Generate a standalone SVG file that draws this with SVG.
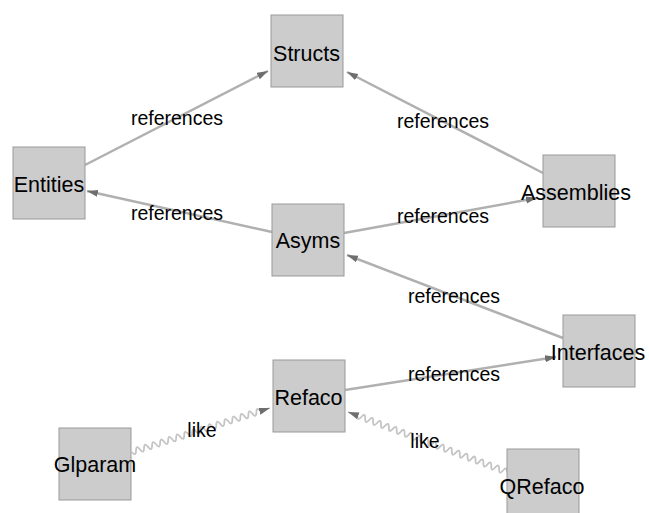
<svg xmlns="http://www.w3.org/2000/svg" width="649" height="513" viewBox="0 0 649 513">
<style>
.node rect{fill:#cccccc;stroke:#999999;stroke-width:1}
.node text{font-family:"Liberation Sans",Arial,sans-serif;font-size:21.5px;fill:#000;text-anchor:middle}
.edge{fill:none;stroke:#b0b0b0;stroke-width:2.5}
.wave{fill:none;stroke:#c4c4c4;stroke-width:1.8}
.lbl{font-family:"Liberation Sans",Arial,sans-serif;font-size:19.5px;fill:#000;text-anchor:middle}
</style>
<defs>
<marker id="arr" markerUnits="userSpaceOnUse" markerWidth="12" markerHeight="8" refX="11" refY="3.5" orient="auto">
<path d="M0,0 L11,3.5 L0,7 z" fill="#6e6e6e"/>
</marker>
</defs>
<rect width="649" height="513" fill="#ffffff"/>
<g id="connectors">
<path class="edge" d="M85,165 L268,71" marker-end="url(#arr)"/>
<path class="edge" d="M272,232 L87,191" marker-end="url(#arr)"/>
<path class="edge" d="M543,173 L347,72" marker-end="url(#arr)"/>
<path class="edge" d="M344,233 L537,198" marker-end="url(#arr)"/>
<path class="edge" d="M563,338 L347,255" marker-end="url(#arr)"/>
<path class="edge" d="M345,390 L556,357" marker-end="url(#arr)"/>
<path class="wave" marker-end="url(#arr)" d="M132,452 q3.83,5.08 4.013,-1.28 t4.013,-1.28 t4.013,-1.28 t4.013,-1.28 t4.013,-1.28 t4.013,-1.28 t4.013,-1.28 t4.013,-1.28 t4.013,-1.28 t4.013,-1.28 t4.013,-1.28 t4.013,-1.28 t4.013,-1.28 t4.013,-1.28 t4.013,-1.28 t4.013,-1.28 t4.013,-1.28 t4.013,-1.28 t4.013,-1.28 t4.013,-1.28 t4.013,-1.28 t4.013,-1.28 t4.013,-1.28 t4.013,-1.28 t4.013,-1.28 t4.013,-1.28 t4.013,-1.28 t4.013,-1.28 t4.013,-1.28 t4.013,-1.28 t4.013,-1.28 t4.013,-1.28 l9.53,-3.04"/>
<path class="wave" marker-end="url(#arr)" d="M507,472 q0.15,-6.358 -3.938,-1.486 t-3.938,-1.486 t-3.938,-1.486 t-3.938,-1.486 t-3.938,-1.486 t-3.938,-1.486 t-3.938,-1.486 t-3.938,-1.486 t-3.938,-1.486 t-3.938,-1.486 t-3.938,-1.486 t-3.938,-1.486 t-3.938,-1.486 t-3.938,-1.486 t-3.938,-1.486 t-3.938,-1.486 t-3.938,-1.486 t-3.938,-1.486 t-3.938,-1.486 t-3.938,-1.486 t-3.938,-1.486 t-3.938,-1.486 t-3.938,-1.486 t-3.938,-1.486 t-3.938,-1.486 t-3.938,-1.486 t-3.938,-1.486 t-3.938,-1.486 t-3.938,-1.486 t-3.938,-1.486 t-3.938,-1.486 t-3.938,-1.486 t-3.938,-1.486 t-3.938,-1.486 t-3.938,-1.486 t-3.938,-1.486 t-3.938,-1.486 t-3.938,-1.486 l-9.358,-3.531"/>
<text class="lbl" x="177" y="125">references</text>
<text class="lbl" x="177" y="220">references</text>
<text class="lbl" x="443" y="128">references</text>
<text class="lbl" x="443" y="223">references</text>
<text class="lbl" x="454" y="303">references</text>
<text class="lbl" x="454" y="381">references</text>
<text class="lbl" x="202" y="437">like</text>
<text class="lbl" x="425" y="448">like</text>
</g>
<g id="Structs" class="node"><rect x="271" y="15" width="72" height="72"/><text x="306.5" y="61">Structs</text></g>
<g id="Entities" class="node"><rect x="13" y="147" width="72" height="72"/><text x="49" y="192">Entities</text></g>
<g id="Asyms" class="node"><rect x="272" y="204" width="72" height="72"/><text x="308" y="248">Asyms</text></g>
<g id="Assemblies" class="node"><rect x="543" y="155" width="72" height="72"/><text x="576" y="200">Assemblies</text></g>
<g id="Interfaces" class="node"><rect x="563" y="315" width="72" height="72"/><text x="598" y="360">Interfaces</text></g>
<g id="Refaco" class="node"><rect x="273" y="360" width="72" height="72"/><text x="308.5" y="405">Refaco</text></g>
<g id="Glparam" class="node"><rect x="59" y="428" width="72" height="72"/><text x="95" y="472">Glparam</text></g>
<g id="QRefaco" class="node"><rect x="507" y="449" width="72" height="72"/><text x="542" y="494">QRefaco</text></g>
</svg>
